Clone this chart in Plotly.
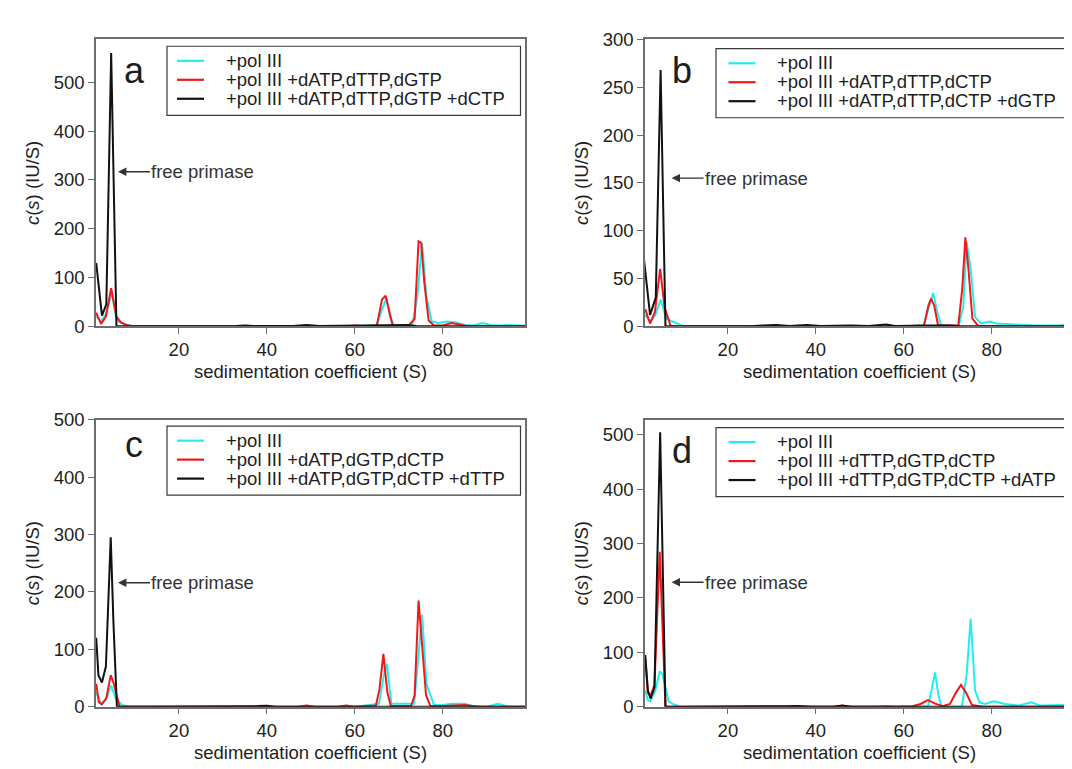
import plotly.graph_objects as go

# ---------------- data ----------------
legend_names = {
    "a": ["+pol III", "+pol III +dATP,dTTP,dGTP", "+pol III +dATP,dTTP,dGTP +dCTP"],
    "b": ["+pol III", "+pol III +dATP,dTTP,dCTP", "+pol III +dATP,dTTP,dCTP +dGTP"],
    "c": ["+pol III", "+pol III +dATP,dGTP,dCTP", "+pol III +dATP,dGTP,dCTP +dTTP"],
    "d": ["+pol III", "+pol III +dTTP,dGTP,dCTP", "+pol III +dTTP,dGTP,dCTP +dATP"],
}

# panel a
a_cyan_s = [1.2, 2.3, 3.4, 4.7, 5.8, 6.6, 8.0, 10, 20, 40, 60, 65, 66, 67.2, 68, 69, 73, 74.2, 75.3, 76.3, 77.5, 79, 81, 83, 85, 87, 89, 91, 93, 95, 97, 99]
a_cyan_v = [20, 10, 25, 68, 15, 8, 4, 0, 0, 0, 0, 2, 30, 58, 20, 0, 0, 60, 170, 60, 10, 7, 10, 8, 3, 2, 7, 3, 2, 3, 2, 1]
a_red_s = [1.2, 2.3, 3.4, 4.6, 5.8, 6.8, 8.0, 9.5, 20, 40, 43, 46, 58, 60, 62, 65, 66.2, 67.0, 67.8, 68.6, 72, 73.6, 74.5, 75.1, 75.8, 76.8, 78, 80, 82, 84, 86, 99]
a_red_v = [28, 5, 20, 78, 20, 8, 3, 0, 0, 0, 1, 0, 0, 2, 0, 2, 55, 63, 30, 2, 0, 15, 174, 171, 90, 12, 2, 2, 7, 4, 0, 0]
a_black_s = [1.2, 2.5, 3.5, 4.6, 5.8, 10, 30, 33, 35, 37, 46, 49, 52, 70, 72, 74, 99]
a_black_v = [130, 22, 45, 560, 0, 0, 0, 1, 2, 1, 1, 3, 1, 2, 3, 1, 0]

# panel b
b_cyan_s = [1.2, 2.3, 3.5, 4.7, 6.0, 7.5, 10, 20, 40, 60, 64.5, 65.8, 66.7, 67.6, 68.5, 72.5, 73.5, 74.3, 75.2, 76.2, 77.5, 79.5, 81, 85, 90, 95, 99]
b_cyan_v = [12, 5, 12, 28, 8, 5, 0, 0, 0, 0, 1, 20, 35, 15, 1, 1, 20, 88, 60, 10, 3, 5, 3, 2, 1, 1, 2]
b_red_s = [1.2, 2.3, 3.4, 4.6, 5.6, 7.0, 20, 40, 60, 64.6, 65.6, 66.2, 66.9, 67.8, 72.4, 73.3, 74.0, 74.7, 75.6, 77, 99]
b_red_v = [18, 3, 15, 60, 20, 0, 0, 0, 0, 1, 22, 29, 22, 1, 1, 40, 93, 60, 8, 0, 0]
b_black_s = [0.8, 2.3, 3.6, 4.7, 5.8, 10, 25, 28, 31, 34, 38, 41, 48, 52, 56, 58, 62, 66, 70, 73, 99]
b_black_v = [75, 12, 30, 268, 0, 0, 0, 1, 1.5, 0.5, 1.5, 0.5, 1, 0.5, 2, 0.5, 1, 1, 1, 0, 0]

# panel c
c_cyan_s = [1.2, 2.3, 3.4, 4.6, 5.6, 7.0, 9.0, 20, 40, 50, 52, 54, 60, 65.5, 66.6, 67.3, 68.3, 73.5, 74.5, 75.3, 76.3, 78, 80, 82, 85, 87, 90, 92.5, 95, 99]
c_cyan_v = [25, 5, 12, 37, 15, 3, 0, 0, 0, 0, 1, 0, 0, 5, 55, 75, 5, 5, 100, 160, 40, 3, 3, 5, 5, 1, 0, 5, 0, 0]
c_red_s = [1.2, 1.8, 2.5, 3.5, 4.5, 5.2, 6.5, 20, 38, 40, 42, 47, 49, 51, 56, 58, 60, 64.8, 65.6, 66.5, 67.4, 68.2, 72.8, 73.6, 74.5, 75.3, 76.2, 77.2, 80, 85, 88, 99]
c_red_v = [40, 8, 4, 15, 55, 40, 0, 0, 0, 1, 0, 0, 2, 0, 0, 2, 0, 2, 30, 92, 25, 1, 1, 20, 185, 110, 20, 1, 1, 3, 0, 0]
c_black_s = [1.2, 1.7, 2.5, 3.4, 4.5, 5.1, 5.9, 10, 35, 38, 40, 42, 99]
c_black_v = [120, 55, 42, 70, 295, 150, 0, 0, 0, 1, 1.5, 0, 0]

# panel d
d_cyan_s = [1.2, 1.8, 2.4, 3.5, 4.5, 5.1, 6.5, 7.5, 9.0, 20, 40, 60, 65.5, 66.3, 67.1, 67.9, 68.6, 73.2, 74.3, 75.2, 76.2, 77.2, 78.5, 80.5, 83, 86, 89, 91, 94, 96, 99]
d_cyan_v = [30, 12, 10, 30, 65, 60, 10, 5, 0, 0, 0, 0, 1, 30, 63, 20, 0, 0, 60, 162, 30, 8, 5, 10, 5, 2, 8, 2, 2, 3, 1]
d_red_s = [1.2, 1.8, 2.4, 3.3, 4.5, 5.8, 10, 30, 32, 34, 36, 38, 44, 46, 48, 54, 56, 58, 62, 63.8, 65.5, 67, 68.8, 70.5, 71.8, 73.0, 74.2, 75.5, 78, 99]
d_red_v = [90, 25, 20, 40, 285, 0, 0, 0, 1, 0, 1, 0, 0, 1.5, 0, 0, 1, 0, 1, 5, 12, 6, 1, 5, 25, 40, 25, 3, 0, 0]
d_black_s = [1.2, 1.8, 2.4, 3.3, 4.6, 5.8, 10, 30, 33, 36, 39, 44, 46, 48, 99]
d_black_v = [95, 30, 15, 35, 505, 0, 0, 0, 1, 1.5, 0, 0, 2, 0, 0]

series = {
    "a": [(a_cyan_s, a_cyan_v), (a_red_s, a_red_v), (a_black_s, a_black_v)],
    "b": [(b_cyan_s, b_cyan_v), (b_red_s, b_red_v), (b_black_s, b_black_v)],
    "c": [(c_cyan_s, c_cyan_v), (c_red_s, c_red_v), (c_black_s, c_black_v)],
    "d": [(d_cyan_s, d_cyan_v), (d_red_s, d_red_v), (d_black_s, d_black_v)],
}

y_max = {"a": 588, "b": 300, "c": 500, "d": 528}
y_dtick = {"a": 100, "b": 50, "c": 100, "d": 100}
x_ticks = [20, 40, 60, 80]
x_range = [1.15, 98.7]
arrow_tip = {"a": (6.15, 317), "b": (7.2, 155), "c": (6.15, 216), "d": (7.2, 229)}

# ---------------- figure ----------------
FONT = "Liberation Sans, Arial, sans-serif"
FS = 18.5
TXT = "#1e1e1e"
COLORS = ["#22eef0", "#f01818", "#111111"]
AXCOL = "#6e6e6e"

W, H = 1072, 769
# pixel boxes of the plot areas: (left, right, top, bottom)
boxes = {"a": (88, 517, 21, 316), "b": (637, 1066, 21, 316),
         "c": (88, 517, 412, 707), "d": (637, 1066, 412, 707)}
letter_pos = {"a": (0.0897, 0.893), "b": (0.087, 0.891), "c": (0.0897, 0.9135), "d": (0.087, 0.894)}

# legend geometry in pixels relative to the plot-area top-left corner
LEG_L, LEG_R, LEG_H = 71, 424.5, 71
LEG_TOP = {"a": 7, "b": 9.5, "c": 6.5, "d": 8}
ROWS = [15, 34.5, 54]
ROW_BOX = 19.5
SAMPLE = {"a": (81, 108), "b": (83.5, 110.5), "c": (81, 108), "d": (83.5, 110.5)}
TEXT_X = {"a": 128.5, "b": 131, "c": 128.5, "d": 131}

fig = go.Figure()
annotations, shapes = [], []
layout = dict(width=W, height=H, margin=dict(l=0, r=0, t=0, b=0),
              paper_bgcolor="white", plot_bgcolor="white",
              font=dict(family=FONT, size=FS, color=TXT), showlegend=False)

for i, p in enumerate(["a", "b", "c", "d"]):
    n = "" if i == 0 else str(i + 1)
    xa, ya = "x" + n, "y" + n
    l, r, t, b = boxes[p]
    pw, ph = r - l, b - t

    def fx(px):
        return px / pw

    def fy(py):
        return 1 - py / ph

    for (s, v), name, col in zip(series[p], legend_names[p], COLORS):
        fig.add_trace(go.Scatter(x=s, y=v, mode="lines", name=name,
                                 line=dict(color=col, width=2),
                                 xaxis=xa, yaxis=ya))
    common = dict(showline=True, linecolor=AXCOL, linewidth=1.5, mirror=True,
                  ticks="outside", ticklen=6, tickwidth=1.2, tickcolor=AXCOL, showgrid=False,
                  zeroline=False, tickfont=dict(size=FS, family=FONT, color=TXT))
    layout["xaxis" + n] = dict(domain=[l / W, r / W], anchor=ya, range=x_range,
                               tickvals=x_ticks,
                               title=dict(text="sedimentation coefficient (S)", standoff=6,
                                          font=dict(size=FS, family=FONT, color=TXT)),
                               **common)
    layout["yaxis" + n] = dict(domain=[1 - b / H, 1 - t / H], anchor=xa,
                               range=[0, y_max[p]], dtick=y_dtick[p], tick0=0,
                               title=dict(text="<i>c</i>(<i>s</i>) (IU/S)", standoff=9,
                                          font=dict(size=FS, family=FONT, color=TXT)),
                               **common)

    # legend box (drawn inside the plot area)
    xd, yd = xa + " domain", ya + " domain"
    top = LEG_TOP[p]
    shapes.append(dict(type="rect", xref=xd, yref=yd, x0=fx(LEG_L), x1=fx(LEG_R),
                       y0=fy(top + LEG_H), y1=fy(top), line=dict(color="#3a3a3a", width=1.2),
                       fillcolor="white", layer="above"))
    for row, name, col in zip(ROWS, legend_names[p], COLORS):
        shapes.append(dict(type="line", xref=xd, yref=yd, x0=fx(SAMPLE[p][0]), x1=fx(SAMPLE[p][1]),
                           y0=fy(top + row), y1=fy(top + row), line=dict(color=col, width=2.2),
                           layer="above"))
        annotations.append(dict(text=name, xref=xd, yref=yd, x=fx(TEXT_X[p]), y=fy(top + row),
                                xanchor="left", yanchor="middle", valign="middle",
                                height=ROW_BOX, borderpad=0, showarrow=False,
                                font=dict(size=FS, family=FONT, color=TXT)))

    lx, ly = letter_pos[p]
    annotations.append(dict(text=p, xref=xd, yref=yd, x=lx, y=ly, showarrow=False,
                            xanchor="center", yanchor="middle",
                            font=dict(size=36, family=FONT, color=TXT)))
    tx, ty = arrow_tip[p]
    annotations.append(dict(text="free primase", xref=xa, yref=ya, x=tx, y=ty,
                            ax=85, ay=0, axref="pixel", ayref="pixel",
                            showarrow=True, arrowhead=2, arrowsize=1.2,
                            arrowwidth=1.4, arrowcolor="#333333", standoff=0,
                            font=dict(size=FS, family=FONT, color="#333333")))

layout["annotations"] = annotations
layout["shapes"] = shapes
fig.update_layout(**layout)
fig.write_html("out.html")
